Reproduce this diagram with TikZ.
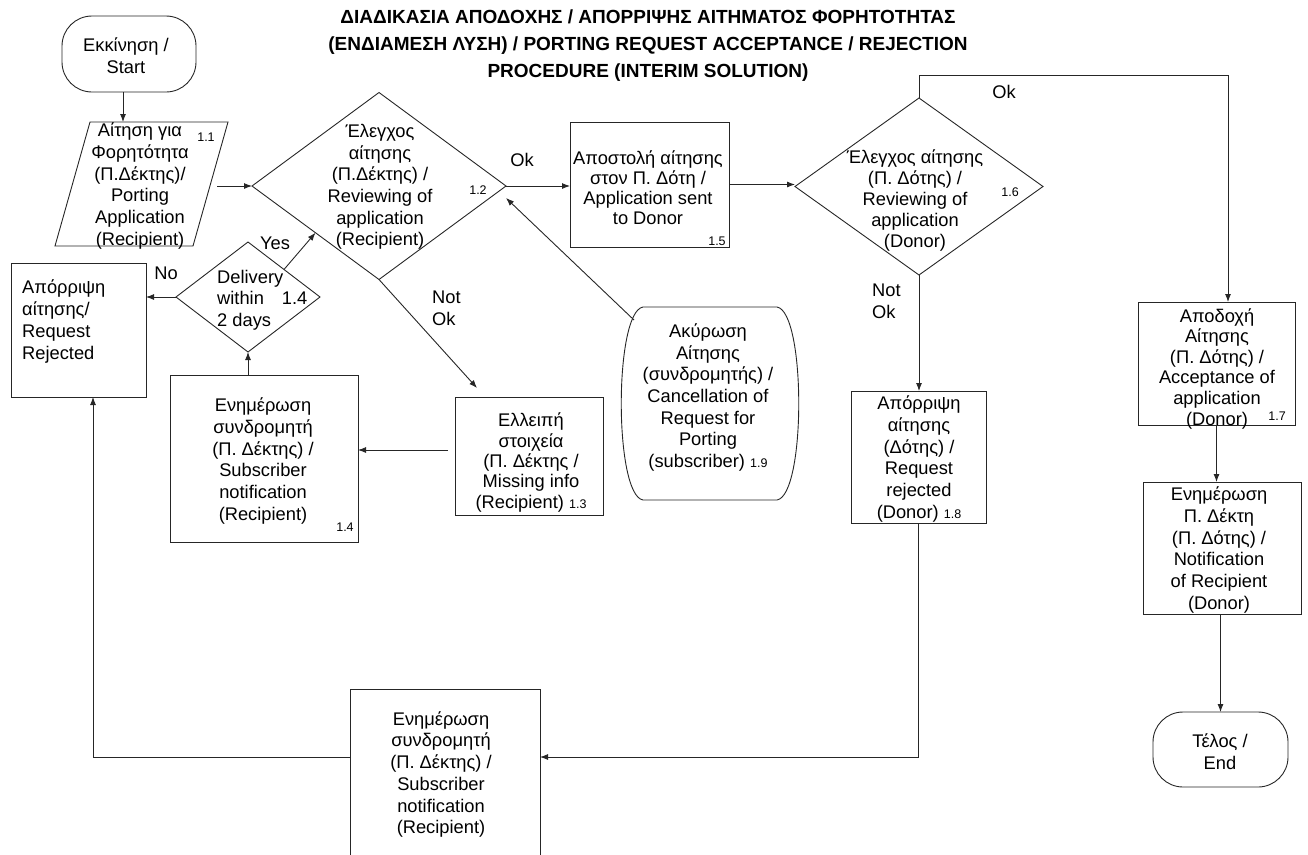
\documentclass[tikz,border=0pt]{standalone}
\usepackage{fontspec}
\setmainfont{Liberation Sans}
\usetikzlibrary{shapes.geometric,arrows.meta,calc}
\tikzset{
  ln/.style={line width=0.9pt, draw=black!85},
  arr/.style={ln, -{Latex[length=8pt,width=6pt]}},
  shp/.style={ln, inner sep=0pt, outer sep=0pt},
  boxshape/.style={shp, rectangle},
  termshape/.style={shp, rectangle, rounded corners=30pt},
  decshape/.style={shp, diamond},
  txt/.style={font=\fontsize{18.3}{21.7}\selectfont, align=center, inner sep=0pt},
  txtl/.style={font=\fontsize{18.3}{21.7}\selectfont, align=left, inner sep=0pt, anchor=west},
  num/.style={font=\fontsize{12.5}{14}\selectfont, inner sep=0pt},
  titlestyle/.style={font=\fontsize{19}{27}\selectfont\bfseries, align=center, inner sep=0pt}
}
\begin{document}
\begin{tikzpicture}[x=1pt,y=-1pt]
\useasboundingbox (0,0) rectangle (1308,854);

% title
\node[titlestyle] (title) at (648,46) {ΔΙΑΔΙΚΑΣΙΑ ΑΠΟΔΟΧΗΣ / ΑΠΟΡΡΙΨΗΣ ΑΙΤΗΜΑΤΟΣ ΦΟΡΗΤΟΤΗΤΑΣ\\(ΕΝΔΙΑΜΕΣΗ ΛΥΣΗ) / PORTING REQUEST ACCEPTANCE / REJECTION\\PROCEDURE (INTERIM SOLUTION)};

% start
\node[termshape, minimum width=134pt, minimum height=76pt] (start) at (129,54) {};
\node[txt] (startt) at (126,56) {Εκκίνηση /\\Start};

% 1.1 parallelogram
\draw[ln] (90,122) -- (228,122) -- (193,246) -- (55,246) -- cycle;
\coordinate (p11top) at (123,122);
\coordinate (p11r) at (217,186);
\node[txt] (p11t) at (140,186) {Αίτηση για\\Φορητότητα\\(Π.Δέκτης)/\\Porting\\Application\\(Recipient)};
\node[num] (p11n) at (206,137) {1.1};

% 1.2 diamond
\node[decshape, minimum width=254pt, minimum height=187pt] (d12) at (379,186) {};
\node[txt] (d12t) at (380,187) {Έλεγχος\\αίτησης\\(Π.Δέκτης) /\\Reviewing of\\application\\(Recipient)};
\node[num] (d12n) at (478,190) {1.2};

% delivery diamond
\node[decshape, minimum width=144pt, minimum height=110pt] (dl) at (248,297) {};
\node[txtl] (dlt) at (217,300) {Delivery\\within\hspace{18pt}1.4\\2 days};

% rejected (recipient)
\node[boxshape, minimum width=135pt, minimum height=134pt] (rej) at (78.5,330) {};
\node[txtl] (rejt) at (22,321.5) {Απόρριψη\\αίτησης/\\Request\\Rejected};

% 1.4 subscriber notification
\node[boxshape, minimum width=188pt, minimum height=167pt] (n14) at (264,458.5) {};
\node[txt] (n14t) at (263,461) {Ενημέρωση\\συνδρομητή\\(Π. Δέκτης) /\\Subscriber\\notification\\(Recipient)};
\node[num] (n14n) at (345,527) {1.4};

% 1.3 missing info
\node[boxshape, minimum width=148pt, minimum height=118pt] (b13) at (529,456) {};
\node[txt, font=\fontsize{18.3}{20.3}\selectfont] (b13t) at (531,462.5) {Ελλειπή\\στοιχεία\\(Π. Δέκτης /\\Missing info\\(Recipient) {\fontsize{12.5}{14}\selectfont 1.3}};

% 1.9 cancellation
\draw[ln] (643,307) -- (777,307) .. controls (806,312) and (806,495) .. (777,500)
  -- (643,500) .. controls (614,495) and (614,312) .. (643,307) -- cycle;
\coordinate (c19a) at (634,320);
\node[txt] (c19t) at (708,397.5) {Ακύρωση\\Αίτησης\\(συνδρομητής) /\\Cancellation of\\Request for\\Porting\\(subscriber) {\fontsize{12.5}{14}\selectfont 1.9}};

% 1.5
\node[boxshape, minimum width=159pt, minimum height=125pt] (b15) at (649.5,184.5) {};
\node[txt, font=\fontsize{18.3}{20}\selectfont] (b15t) at (648,187.5) {Αποστολή αίτησης\\στον Π. Δότη /\\Application sent\\to Donor};
\node[num] (b15n) at (717,241) {1.5};

% 1.6 diamond
\node[decshape, minimum width=248pt, minimum height=177pt] (d16) at (919,186.5) {};
\node[txt, font=\fontsize{18.3}{21}\selectfont] (d16t) at (915,200) {Έλεγχος αίτησης\\(Π. Δότης) /\\Reviewing of\\application\\(Donor)};
\node[num] (d16n) at (1010,192) {1.6};

% 1.7
\node[boxshape, minimum width=157pt, minimum height=123pt] (b17) at (1216.5,363.5) {};
\node[txt, font=\fontsize{18.3}{20.6}\selectfont] (b17t) at (1217,368.5) {Αποδοχή\\Αίτησης\\(Π. Δότης) /\\Acceptance of\\application\\(Donor)};
\node[num] (b17n) at (1277,416) {1.7};

% notification of recipient
\node[boxshape, minimum width=158pt, minimum height=132pt] (n17) at (1222,548) {};
\node[txt] (n17t) at (1219,550) {Ενημέρωση\\Π. Δέκτη\\(Π. Δότης) /\\Notification\\of Recipient\\(Donor)};

% end
\node[termshape, minimum width=135pt, minimum height=75pt] (end) at (1220.5,749.5) {};
\node[txt] (endt) at (1220,752) {Τέλος /\\End};

% 1.8
\node[boxshape, minimum width=135pt, minimum height=132pt] (b18) at (918.5,457) {};
\node[txt] (b18t) at (919,459) {Απόρριψη\\αίτησης\\(Δότης) /\\Request\\rejected\\(Donor) {\fontsize{12.5}{14}\selectfont 1.8}};

% bottom subscriber notification (runs off the page bottom)
\node[boxshape, minimum width=190pt, minimum height=200pt] (nb) at (445,789) {};
\coordinate (nbin) at ($(nb.north east)+(0,68)$);
\coordinate (nbout) at ($(nb.north west)+(0,68)$);
\node[txt] (nbt) at (441,774.5) {Ενημέρωση\\συνδρομητή\\(Π. Δέκτης) /\\Subscriber\\notification\\(Recipient)};

% labels
\node[txt] (okA) at (522,160) {Ok};
\node[txt] (okB) at (1004,92) {Ok};
\node[txtl] (notokA) at (432,308) {Not\\Ok};
\node[txtl] (notokB) at (872,301) {Not\\Ok};
\node[txt] (yes) at (275,243) {Yes};
\node[txt] (no) at (166,273) {No};

% connectors
\draw[arr] (start.south -| p11top) -- (p11top);
\draw[arr] (p11r) -- (p11r -| d12.west);
\draw[arr] (d12.east) -- (d12.east -| b15.west);
\draw[arr] (b15.east) -- (b15.east -| d16.west);
\coordinate (okc) at (1228,75);
\draw[arr] (d16.north) |- (okc) -- (okc |- b17.north);
\draw[arr] (b17.south) -- (b17.south |- n17.north);
\draw[arr] (n17.south -| end.north) -- (end.north);
\draw[arr] (d16.south) -- (d16.south |- b18.north);
\draw[arr] (b18.south) |- (nbin);
\coordinate (rejin) at (93,397);
\draw[arr] (nbout) -| (rejin);
\coordinate (g13) at (448,450);
\draw[arr] (g13) -- (g13 -| n14.east);
\draw[arr] (dl.south |- n14.north) -- (dl.south);
\draw[arr] (dl.west) -- (dl.west -| rej.east);
\draw[arr] (dl.north east) -- (d12.south west);
\coordinate (notokend) at (477,388);
\draw[arr] (d12.south) -- (notokend);
\coordinate (d12r) at (506,198);
\draw[arr] (c19a) -- (d12r);
\end{tikzpicture}
\end{document}
